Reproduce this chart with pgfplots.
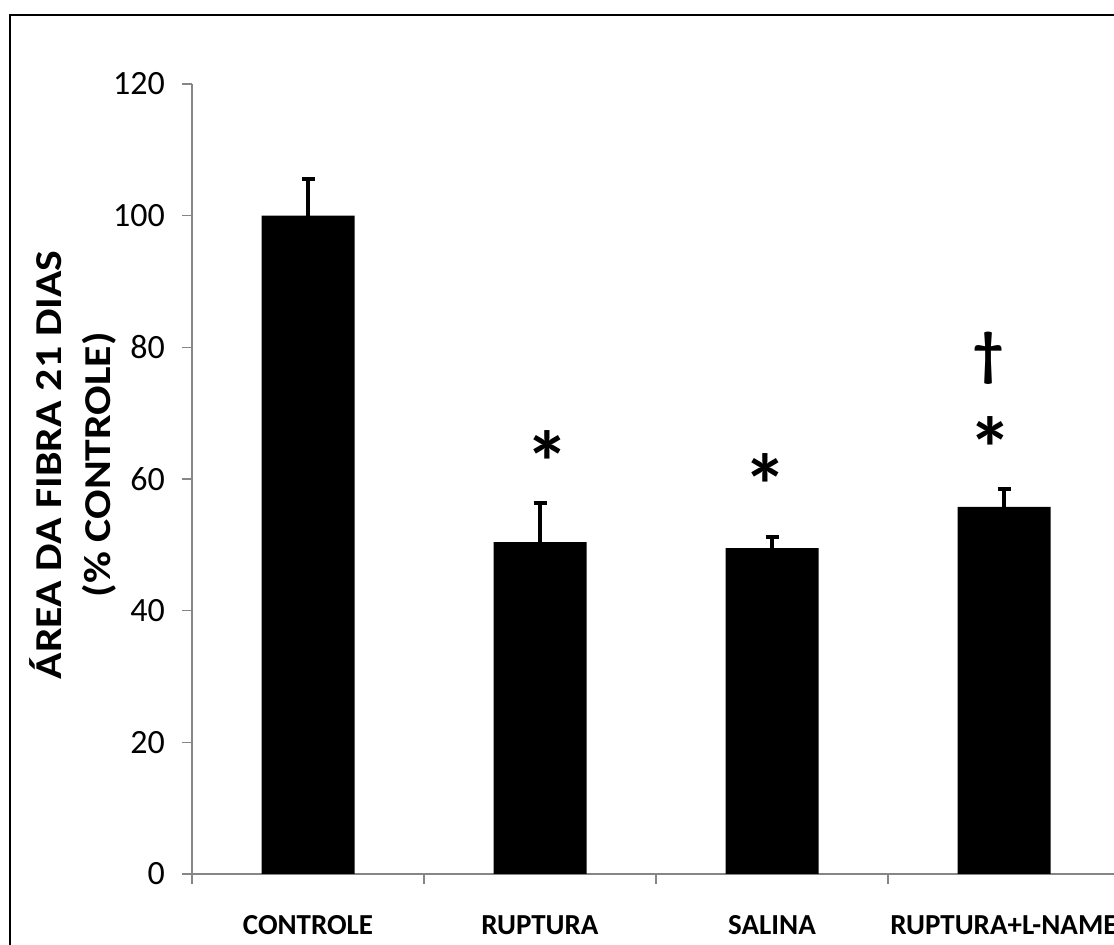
\documentclass[border=0pt]{standalone}
\usepackage{pgfplots}
\pgfplotsset{compat=1.18}
\usepackage{fontspec}
\setmainfont{Carlito}
\definecolor{axgray}{RGB}{134,134,134}
\begin{document}
\begin{tikzpicture}
\useasboundingbox (0,0) rectangle (557pt,472.5pt);
\clip (0,0) rectangle (557pt,472.5pt);
\fill[white] (0,0) rectangle (557pt,472.5pt);
\draw[line width=1pt] (4.75pt,465pt) rectangle (600pt,-20pt);
\begin{axis}[
  at={(96pt,35.5pt)}, anchor=south west,
  scale only axis, width=464pt, height=395pt,
  xmin=-0.5, xmax=3.5, ymin=0, ymax=120,
  axis x line*=bottom, axis y line*=left,
  axis line style={-, draw=axgray, line width=0.8pt},
  clip=false,
  tick align=outside,
  ytick={0,20,...,120},
  major tick length=5pt,
  minor tick length=5pt,
  ytick style={draw=axgray, line width=0.8pt},
  xtick={0,1,2,3},
  xticklabels={CONTROLE,RUPTURA,SALINA,RUPTURA+L-NAME},
  major x tick style={draw=none},
  minor xtick={-0.5,0.5,1.5,2.5,3.5},
  minor x tick style={draw=axgray, line width=0.8pt},
  /pgf/number format/assume math mode=true,
  yticklabel style={font=\fontsize{17}{20}\selectfont, xshift=-5pt},
  xticklabel style={font=\bfseries\fontsize{14.5}{17}\selectfont, anchor=center, yshift=-20.5pt},
]
\addplot[ybar, bar width=46.5pt, fill=black, draw=none,
  error bars/.cd, y dir=plus, y explicit,
  error bar style={line width=2pt, black},
  error mark options={rotate=90, mark size=3.25pt, line width=2pt, black}]
  coordinates {
    (0,100) +- (0,5.6)
    (1,50.4) +- (0,6.0)
    (2,49.5) +- (0,1.7)
    (3,55.75) +- (0,2.75)
  };
\node[font=\bfseries\fontsize{44}{44}\selectfont, anchor=base, yshift=-22.5pt] at (axis cs:1.03,64.7) {*};
\node[font=\bfseries\fontsize{44}{44}\selectfont, anchor=base, yshift=-22.5pt] at (axis cs:1.97,61.1) {*};
\node[font=\bfseries\fontsize{44}{44}\selectfont, anchor=base, yshift=-22.5pt] at (axis cs:2.94,66.7) {*};
\node[font=\bfseries\fontsize{30}{30}\selectfont] at (axis cs:2.935,78.4) {†};
\end{axis}
\node[rotate=90, align=center, font=\bfseries\fontsize{19}{24.5}\selectfont] at (36.25pt,240pt)
  {\scalebox{1.15}[1]{ÁREA DA FIBRA 21 DIAS}\\\scalebox{1.15}[1]{(\% CONTROLE)}};
\end{tikzpicture}
\end{document}
